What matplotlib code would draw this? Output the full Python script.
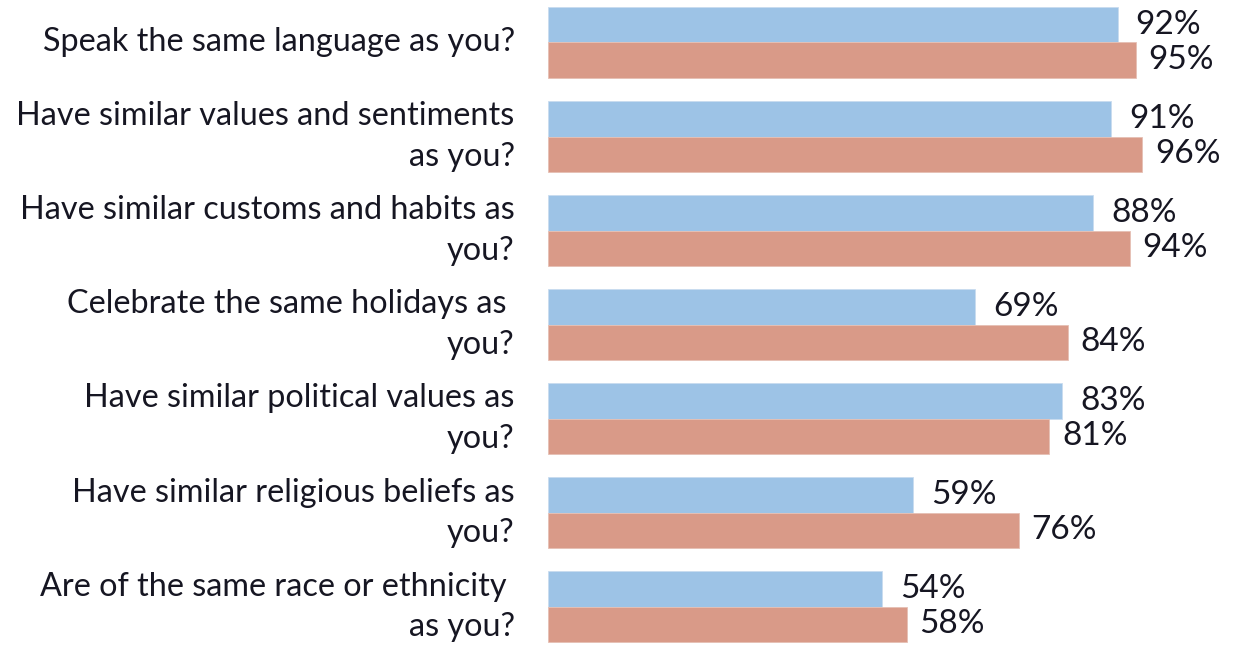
import matplotlib
matplotlib.use("Agg")
import numpy as np
import matplotlib.pyplot as plt

# survey questions (top to bottom)
questions = [
    "Speak the same language as you?",
    "Have similar values and sentiments\nas you?",
    "Have similar customs and habits as\nyou?",
    "Celebrate the same holidays as \nyou?",
    "Have similar political values as\nyou?",
    "Have similar religious beliefs as\nyou?",
    "Are of the same race or ethnicity \nas you?",
]
blue_vals = [92, 91, 88, 69, 83, 59, 54]
red_vals = [95, 96, 94, 84, 81, 76, 58]

BLUE = "#9dc3e6"
RED = "#d99a88"
TXT = "#161622"

plt.rcParams['font.family'] = ['Lato', 'DejaVu Sans']

fig = plt.figure(figsize=(12.34, 6.45), dpi=100)
ax = fig.add_axes([548 / 1234, 0, 1 - 548 / 1234, 1])

y = np.arange(len(questions))
h = 0.378
ax.barh(y - h / 2, blue_vals, height=h, color=BLUE, edgecolor="#c9dcef", linewidth=0.6)
ax.barh(y + h / 2, red_vals, height=h, color=RED, edgecolor="#e6c0b4", linewidth=0.6)

for i in range(len(questions)):
    ax.annotate(f"{blue_vals[i]}%", (blue_vals[i], y[i] - h / 2), xytext=(13, 0),
                textcoords="offset points", va="center", ha="left",
                fontsize=24, color=TXT)
    ax.annotate(f"{red_vals[i]}%", (red_vals[i], y[i] + h / 2), xytext=(9, 0),
                textcoords="offset points", va="center", ha="left",
                fontsize=24, color=TXT)

ax.set_xlim(0, 110.8)
ax.set_ylim(6.409, -0.452)
ax.set_yticks(y)
ax.set_yticklabels(questions, fontsize=23.3, color=TXT, ha="right", va="center",
                   linespacing=1.42)
ax.tick_params(axis="y", length=0, pad=24)
ax.set_xticks([])
for s in ax.spines.values():
    s.set_visible(False)

fig.savefig("out.png", dpi=100)
